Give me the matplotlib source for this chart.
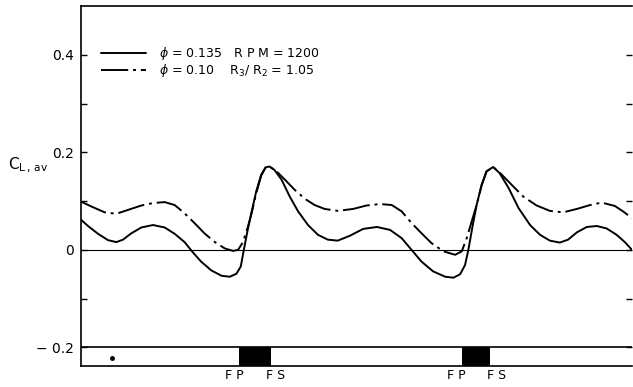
import numpy as np
import matplotlib.pyplot as plt

# position along the cascade (0-100 across the plot), C_L,av values
x_phi135 = [0, 1.27, 3.09, 4.9, 6.41, 7.62, 9.13, 10.95, 13.07, 15.18, 17.0, 18.8,
            20.3, 21.8, 23.65, 25.5, 27.0, 28.2, 29.0, 29.5, 30.2, 30.9, 31.8, 32.7,
            33.5, 34.2, 35.1, 36.4, 37.9, 39.4, 41.2, 43.0, 44.8, 46.6, 48.8, 51.2,
            53.7, 56.1, 58.2, 60.0, 61.8, 63.9, 66.1, 67.6, 68.8, 69.7, 70.3, 71.1,
            71.8, 72.7, 73.6, 74.8, 76.0, 77.6, 79.4, 81.5, 83.3, 85.1, 86.9, 88.4,
            90.0, 91.8, 93.6, 95.4, 97.2, 98.7, 100]
y_phi135 = [0.062, 0.049, 0.033, 0.020, 0.016, 0.021, 0.034, 0.046, 0.051, 0.046,
            0.033, 0.016, -0.005, -0.024, -0.042, -0.053, -0.055, -0.049, -0.034,
            -0.003, 0.038, 0.075, 0.120, 0.154, 0.169, 0.171, 0.164, 0.144, 0.109,
            0.079, 0.051, 0.031, 0.021, 0.019, 0.029, 0.043, 0.047, 0.041, 0.024,
            0.000, -0.024, -0.044, -0.055, -0.057, -0.050, -0.031, 0.000, 0.051,
            0.092, 0.133, 0.161, 0.170, 0.157, 0.127, 0.086, 0.051, 0.031, 0.019,
            0.015, 0.021, 0.036, 0.047, 0.049, 0.044, 0.031, 0.016, 0.000]

x_phi10 = [0, 1.88, 4.3, 6.41, 8.53, 10.95, 13.07, 15.18, 17.0, 18.8, 20.6, 22.4,
           24.3, 26.1, 27.6, 28.5, 29.4, 30.3, 30.9, 31.8, 32.7, 33.5, 34.2, 35.5,
           37.0, 38.8, 40.6, 42.4, 44.2, 46.6, 49.4, 51.8, 54.3, 56.4, 58.2, 60.0,
           61.8, 63.6, 65.8, 67.9, 69.1, 70.0, 70.9, 71.8, 72.7, 73.6, 74.8, 76.3,
           78.2, 80.3, 82.7, 85.1, 87.5, 90.0, 92.4, 94.5, 96.9, 98.5, 100]
y_phi10 = [0.099, 0.089, 0.077, 0.074, 0.082, 0.091, 0.096, 0.098, 0.092, 0.075,
           0.055, 0.034, 0.016, 0.003, -0.002, 0.000, 0.016, 0.048, 0.072, 0.116,
           0.152, 0.169, 0.171, 0.161, 0.144, 0.123, 0.105, 0.092, 0.084, 0.080,
           0.084, 0.091, 0.094, 0.092, 0.079, 0.055, 0.034, 0.014, -0.003, -0.010,
           -0.003, 0.024, 0.058, 0.092, 0.132, 0.161, 0.170, 0.155, 0.133, 0.109,
           0.091, 0.080, 0.077, 0.084, 0.092, 0.097, 0.090, 0.078, 0.065]

# flap passage (FP) to flap stop (FS) blocks
fp_start = [28.7, 69.1]
fp_end = [34.5, 74.2]
fp_label_x = [27.9, 68.2]
fs_label_x = [35.4, 75.5]

label1 = r'$\phi$ = 0.135   R P M = 1200'
label2 = r'$\phi$ = 0.10    R$_3$/ R$_2$ = 1.05'

fig = plt.figure(figsize=(6.33, 3.87), dpi=100)
ax = fig.add_axes([81/633, 21/387, 551/633, 360/387])

l1, = ax.plot(x_phi135, y_phi135, color='black', lw=1.4,
              solid_capstyle='round', solid_joinstyle='round')
l2, = ax.plot(x_phi10, y_phi10, color='black', lw=1.4,
              linestyle=(0, (14, 2.5, 1.5, 2.5)), dash_joinstyle='round')

ax.axhline(0, color='black', lw=0.8)
ax.axhline(-0.2, color='black', lw=1.2)
for a, b in zip(fp_start, fp_end):
    ax.fill_between([a, b], -0.2, -0.238, color='black', lw=0)
for xp, xs in zip(fp_label_x, fs_label_x):
    ax.text(xp, -0.257, 'F P', ha='center', va='center', fontsize=9)
    ax.text(xs, -0.257, 'F S', ha='center', va='center', fontsize=9)
ax.plot([5.6], [-0.222], 'o', color='black', ms=2.5)

ax.set_xlim(0, 100)
ax.set_ylim(-0.238, 0.5)
ax.set_xticks([])
ax.set_yticks([-0.2, 0, 0.2, 0.4])
ax.set_yticklabels(['\u2212 0.2', '0', '0.2', '0.4'])
ax.set_yticks([-0.1, 0.1, 0.3], minor=True)
ax.tick_params(axis='y', which='both', direction='in', length=4, width=1,
               right=True, labelsize=10, pad=5)
ax.spines['right'].set_visible(False)
for s in ['left', 'top', 'bottom']:
    ax.spines[s].set_linewidth(1.2)

ax.text(-0.1325, 0.558, r'C$_{\mathregular{L\,,\,a v}}$', transform=ax.transAxes,
        fontsize=11, ha='left', va='center')

ax.legend([l1, l2], [label1, label2], loc='upper left',
          bbox_to_anchor=(0.028, 0.905), frameon=False, fontsize=9,
          handlelength=3.6, handletextpad=1.0, labelspacing=0.02,
          borderaxespad=0)

fig.savefig('out.png', dpi=100)
